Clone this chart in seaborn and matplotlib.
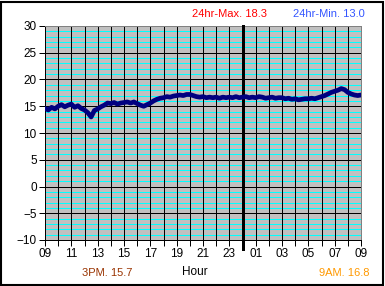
import matplotlib
matplotlib.use("Agg")
import matplotlib.pyplot as plt
import seaborn as sns
import numpy as np
import pandas as pd
from matplotlib.patches import Rectangle

# ---- data (15-minute readings from 09:00 to 09:00 next day) ----
temps = [
    14.6, 14.3, 14.8, 14.5,   # 09
    15.0, 15.3, 14.9, 15.2,   # 10
    15.4, 14.8, 15.1, 14.6,   # 11
    14.3, 13.8, 13.0, 14.2,   # 12
    14.5, 14.9, 15.2, 15.6,   # 13
    15.5, 15.7, 15.4, 15.6,   # 14
    15.7, 15.8, 15.6, 15.8,   # 15
    15.5, 15.2, 15.0, 15.3,   # 16
    15.6, 16.0, 16.3, 16.5,   # 17
    16.6, 16.8, 16.7, 16.9,   # 18
    17.0, 17.1, 17.0, 17.2,   # 19
    17.2, 17.0, 16.8, 16.7,   # 20
    16.8, 16.6, 16.7, 16.6,   # 21
    16.7, 16.5, 16.7, 16.6,   # 22
    16.7, 16.6, 16.8, 16.6,   # 23
    16.7, 16.8, 16.6, 16.7,   # 00
    16.6, 16.8, 16.7, 16.5,   # 01
    16.6, 16.7, 16.5, 16.6,   # 02
    16.6, 16.4, 16.5, 16.3,   # 03
    16.4, 16.2, 16.3, 16.4,   # 04
    16.4, 16.5, 16.4, 16.6,   # 05
    16.8, 17.0, 17.3, 17.6,   # 06
    17.8, 18.0, 18.3, 18.1,   # 07
    17.6, 17.3, 17.1, 17.0,   # 08
    17.1,                     # 09
]
hour_labels = ["09", "10", "11", "12", "13", "14", "15", "16", "17", "18", "19", "20",
               "21", "22", "23", "00", "01", "02", "03", "04", "05", "06", "07", "08", "09"]
y_ticks = [-10, -5, 0, 5, 10, 15, 20, 25, 30]
max_text = "24hr-Max. 18.3"
min_text = "24hr-Min. 13.0"
pm_text = "3PM. 15.7"
am_text = "9AM. 16.8"
x_label = "Hour"

df = pd.DataFrame({"hour": np.arange(len(temps)) / 4.0, "temp": temps})

sns.set_theme(style="white")
plt.rcParams["font.family"] = ["Liberation Sans", "DejaVu Sans"]

PX = 0.72  # one pixel in points at dpi 100

fig = plt.figure(figsize=(3.85, 2.86), dpi=100)
ax = fig.add_axes([45/385, 46/286, 316/385, 214/286])
ax.set_facecolor("#c0c0c0")

x_max = len(hour_labels) - 1
ax.set_xlim(0, x_max)
ax.set_ylim(y_ticks[0], y_ticks[-1])

# grid lines drawn explicitly so the layering matches (cyan under black)
minor_y = [v for v in range(y_ticks[0], y_ticks[-1] + 1) if v not in y_ticks]
ax.hlines(minor_y, 0, x_max, colors="#00ffff", linewidth=PX, antialiased=False, zorder=0.5)
ax.hlines(y_ticks[1:-1], 0, x_max, colors="black", linewidth=PX, antialiased=False, zorder=1)
ax.vlines(np.arange(1, x_max), y_ticks[0], y_ticks[-1], colors="black", linewidth=PX,
          antialiased=False, zorder=1)

midnight = hour_labels.index("00")
ax.axvline(midnight, ymin=-0.04, ymax=1, color="black", linewidth=3 * PX, clip_on=False,
           antialiased=False, zorder=3)

sns.lineplot(data=df, x="hour", y="temp", ax=ax, color="#000080", linewidth=3.4, zorder=4)

ax.set_yticks(y_ticks)
ax.set_xticks(np.arange(0, len(hour_labels), 2))
ax.set_xticklabels(hour_labels[::2])
ax.set_xticks(np.arange(0, len(hour_labels), 1), minor=True)

ax.set_xlabel("")
ax.set_ylabel("")
ax.tick_params(axis="both", which="major", length=4, width=PX, color="black",
               labelsize=8.5, labelcolor="black", pad=2, direction="out")
ax.tick_params(axis="x", which="minor", length=4, width=PX, color="black", direction="out")
ax.tick_params(axis="x", bottom=True, which="both")
ax.tick_params(axis="y", left=True, which="major")

for side in ["top", "right"]:
    ax.spines[side].set_color("#808080")
    ax.spines[side].set_linewidth(PX)
for side in ["left", "bottom"]:
    ax.spines[side].set_color("black")
    ax.spines[side].set_linewidth(PX)

fig.text(229/385, 1 - 14/286, max_text, color="#ff0000", fontsize=8, ha="center", va="center")
fig.text(329/385, 1 - 14/286, min_text, color="#3355ff", fontsize=8, ha="center", va="center")
fig.text(107/385, 1 - 273/286, pm_text, color="#993300", fontsize=8, ha="center", va="center")
fig.text(195/385, 1 - 272/286, x_label, color="black", fontsize=8.5, ha="center", va="center")
fig.text(344/385, 1 - 273/286, am_text, color="#ff9900", fontsize=8, ha="center", va="center")

fig.patches.append(Rectangle((1/385, 1/286), 382/385, 283/286, transform=fig.transFigure,
                             fill=False, edgecolor="black", linewidth=1.5))

fig.savefig("out.png", dpi=100, facecolor="white")
